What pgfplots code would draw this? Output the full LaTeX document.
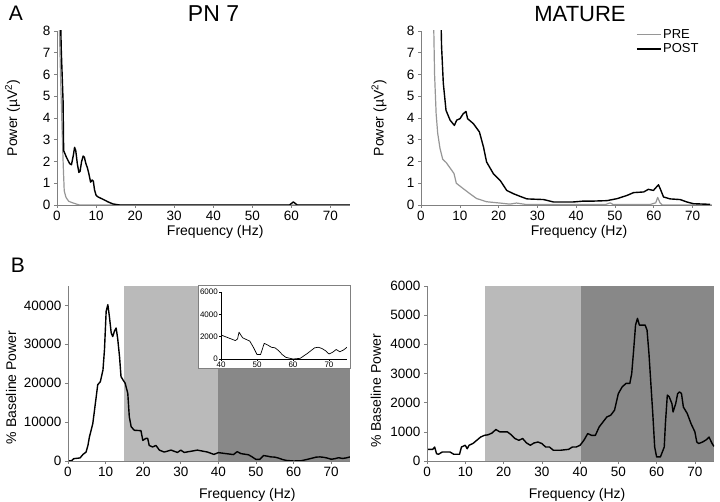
\documentclass[border=0pt]{standalone}
\usepackage{fontspec}
\setmainfont{Liberation Sans}
\usepackage{pgfplots}
\pgfplotsset{compat=1.18}

\definecolor{preg}{RGB}{150,150,150}
\definecolor{axg}{RGB}{128,128,128}
\definecolor{shadeL}{RGB}{186,186,186}
\definecolor{shadeD}{RGB}{136,136,136}

\pgfplotsset{
  panel/.style={
    scale only axis,
    xmin=0, xmax=75,
    axis x line*=bottom, axis y line*=left,
    axis line style={axg, line width=0.8pt},
    tick style={axg, line width=0.6pt},
    tick align=outside,
    major tick length=3pt,
    xtick={0,10,...,70},
    ticklabel style={font=\fontsize{13.5}{15}\selectfont},
    /pgf/number format/assume math mode=true,
    /pgf/number format/1000 sep={},
    scaled ticks=false,
    xlabel={Frequency (Hz)},
  },
  ylab/.style 2 args={every axis y label/.style={at={(axis description cs:#1,#2)}, rotate=90, anchor=center, font=\fontsize{14}{16}\selectfont}},
  xlab/.style 2 args={every axis x label/.style={at={(axis description cs:#1,#2)}, anchor=center, font=\fontsize{14}{16}\selectfont}},
  post/.style={black, line width=1.4pt, line join=round},
  pre/.style={preg, line width=1.2pt, line join=round},
}

\begin{document}
\begin{tikzpicture}[x=1pt,y=1pt]
\useasboundingbox (0,0) rectangle (720,501);

% ---------- A left: PN 7
\begin{axis}[panel,
  at={(57pt,296pt)}, anchor=south west,
  width=293pt, height=174pt,
  ymin=0, ymax=8, ytick={0,1,...,8},
  ylabel={Power (µV\textsuperscript{2})},
  ylab={-0.152}{0.5}, xlab={0.54}{-0.155},
]
\addplot[pre] coordinates {
(0.5,9) (0.9,6) (1.3,3.5) (1.6,1.8) (1.85,0.65) (2.3,0.35) (3.0,0.17) (4.0,0.1) (5.0,0.04) (5.8,0) (75,0)};
\addplot[post] coordinates {
(0.85,9) (1.1,7.1) (1.55,4.8) (1.7,2.5) (2.4,2.2) (3.25,1.9) (3.7,1.85) (4.2,2.3) (4.5,2.65) (4.8,2.5)
(5.2,1.9) (5.6,1.5) (5.9,1.55) (6.3,2.0) (6.7,2.25) (7.0,2.2) (7.4,1.9) (7.8,1.7) (8.2,1.4) (8.6,1.05)
(9.0,1.15) (9.3,1.1) (9.6,0.7) (10.0,0.45) (10.5,0.37) (11.8,0.26) (13.1,0.14) (14.3,0.05) (16,0)
(59.5,0) (60.5,0.14) (61.5,0) (75,0)};
\end{axis}

% ---------- A right: MATURE
\begin{axis}[panel,
  at={(421pt,296pt)}, anchor=south west,
  width=291pt, height=174pt,
  ymin=0, ymax=8, ytick={0,1,...,8},
  ylabel={Power (µV\textsuperscript{2})},
  ylab={-0.144}{0.5}, xlab={0.543}{-0.155},
  legend style={draw=none, fill=none, at={(rel axis cs:0.739,1.02)}, anchor=north west,
    font=\fontsize{13}{15}\selectfont, row sep=1pt, inner sep=0pt,
    nodes={inner sep=1.5pt}},
  legend cell align=left,
  legend image code/.code={\draw[#1] (0pt,0pt) -- (24pt,0pt);},
]
\addplot[pre] coordinates {
(3.2,9) (3.5,6) (3.9,4.2) (4.3,3.3) (4.9,2.6) (5.6,2.1) (6.5,1.95) (7.5,1.7) (8.5,1.45) (9.1,1.0)
(10.9,0.75) (12.6,0.52) (14.3,0.3) (16.9,0.15) (20.3,0.09) (22.9,0.04) (24.6,0.09) (27.2,0.02)
(47.5,0.02) (48.8,0.1) (49.5,0.02) (59,0.02) (60.5,0.1) (61.0,0.35) (61.6,0.1) (62.2,0) (75,0)};
\addlegendentry{PRE}
\addplot[post] coordinates {
(5.1,9) (5.3,7.3) (5.75,5.6) (6.45,4.35) (7.5,3.9) (8.6,3.66) (9.2,3.9) (10.05,3.97) (10.9,4.2)
(11.6,4.3) (12.0,3.97) (13.5,3.74) (15.05,3.36) (16.1,2.67) (16.9,1.98) (18.65,1.44) (20.4,1.13)
(22.1,0.67) (23.8,0.52) (25.5,0.4) (27.3,0.28) (31.6,0.25) (34.1,0.14) (39.3,0.14) (41.9,0.18)
(44.5,0.18) (47.9,0.2) (50.5,0.29) (53.1,0.44) (54.8,0.57) (57.4,0.6) (58.6,0.72) (59.9,0.67)
(61.2,0.93) (61.65,0.75) (62.5,0.37) (64.2,0.28) (66.8,0.25) (68.5,0.14) (70.2,0.06) (74.5,0.03)};
\addlegendentry{POST}
\end{axis}

% ---------- B left
\begin{axis}[panel, axis on top,
  at={(68pt,40pt)}, anchor=south west,
  width=282pt, height=175pt,
  ymin=0, ymax=45000, ytick={0,10000,...,40000},
  ylabel={\% Baseline Power},
  ylab={-0.202}{0.42}, xlab={0.636}{-0.194},
]
\addplot[fill=shadeL, draw=none] coordinates {(15,45000) (40,45000)} \closedcycle;
\addplot[fill=shadeD, draw=none] coordinates {(40,45000) (75,45000)} \closedcycle;
\addplot[post] coordinates {
(0,0) (1,100) (1.5,600) (2.5,700) (3.2,800) (4.0,1700) (4.8,2300) (5.3,4000) (5.7,6200) (6.6,9650)
(7.5,16500) (7.9,19600) (8.6,20400) (9.3,23400) (9.7,28600) (10.15,38500) (10.6,40200) (11.0,37200)
(11.5,32900) (11.9,32000) (12.35,33400) (12.8,34200) (13.2,31600) (13.7,26900) (14.1,21700)
(14.6,20900) (15.2,20000) (15.9,17400) (16.3,11400) (16.8,8800) (17.65,7900) (19.4,7800) (19.9,5300)
(20.7,5800) (21.2,5800) (21.6,4000) (22.5,3600) (23.4,4000) (24.3,2800) (25.6,2300) (27.4,2800)
(29.1,2200) (30,2800) (30.9,2200) (32.7,2500) (34.4,2800) (37.1,2300) (38.8,1700)
(40,2150) (42,1900) (44,1650) (45,2400) (46,1900) (48,1600) (49,1050) (50,400) (51,400) (52,1400)
(53,1250) (54,1050) (55,1000) (56,750) (57,400) (58,150) (60,0) (62,60) (64,500) (66,1000) (67,1050)
(68,950) (69,750) (70,450) (71,600) (72,850) (73,650) (74,800) (75,1050)};
\end{axis}

% inset frame
\fill[white] (198,133) rectangle (350,216);
\draw[axg, line width=0.8pt] (198,133) rectangle (350,216);

% ---------- inset
\begin{axis}[
  scale only axis,
  at={(221pt,142pt)}, anchor=south west,
  width=126pt, height=67pt,
  xmin=40, xmax=75, ymin=0, ymax=6000,
  axis x line*=bottom, axis y line*=left,
  axis line style={black, line width=0.6pt},
  tick style={black, line width=0.5pt},
  tick align=outside, major tick length=2pt,
  xtick={40,50,60,70}, ytick={0,2000,4000,6000},
  ticklabel style={font=\fontsize{8}{9}\selectfont, inner sep=1pt},
  /pgf/number format/assume math mode=true,
  /pgf/number format/1000 sep={},
  scaled ticks=false,
]
\addplot[black, line width=0.7pt, line join=round] coordinates {
(40,2150) (42,1900) (44,1650) (44.6,1800) (45,2400) (46,1900) (48,1600) (49,1050) (50,400) (51,400)
(52,1400) (53,1250) (54,1050) (55,1000) (56,750) (57,400) (58,150) (60,0) (62,60) (64,500) (66,1000)
(67,1050) (68,950) (69,750) (70,450) (71,600) (72,850) (73,650) (74,800) (75,1050)};
\end{axis}

% ---------- B right
\begin{axis}[panel, axis on top,
  at={(427pt,40pt)}, anchor=south west,
  width=287pt, height=175pt,
  ymin=0, ymax=6000, ytick={0,1000,...,6000},
  ylabel={\% Baseline Power},
  ylab={-0.178}{0.40}, xlab={0.523}{-0.194},
]
\addplot[fill=shadeL, draw=none] coordinates {(15.2,6000) (40.2,6000)} \closedcycle;
\addplot[fill=shadeD, draw=none] coordinates {(40.2,6000) (75,6000)} \closedcycle;
\addplot[post] coordinates {
(0,400) (1.5,400) (2,480) (2.5,250) (3,230) (4,310) (6,310) (7,230) (8.5,230) (9,480) (10,540)
(10.5,420) (11,540) (12,600) (13,710) (14,820) (15,880) (16,900) (17,960) (18,1080) (19,1000)
(21,1000) (22,900) (23,770) (24,710) (25,770) (26,620) (27,540) (28,620) (29,650) (30,600) (31,480)
(32,480) (33,370) (35,370) (37,400) (38,480) (39,480) (40,540) (41,710) (42,940) (43,880) (44,880)
(45,1170) (46,1340) (47,1510) (48,1570) (49,1740) (50,2310) (51,2540) (52,2660) (53,2660) (53.5,3000)
(54,3800) (54.5,4660) (55,4890) (55.5,4660) (56,4660) (57,4660) (57.5,4490) (58,3690) (58.5,2660)
(59,1630) (59.5,480) (60,140) (61,140) (62,480) (62.3,1280) (62.8,2260) (63.3,2200) (64,1970)
(64.3,1680) (65,1970) (65.5,2310) (66,2370) (66.5,2310) (67,1850) (68,1630) (69,1280) (70,1000)
(70.5,650) (71,600) (72,650) (73,730) (73.7,820) (74.5,600) (75,500)};
\end{axis}

% titles and panel letters
\node[anchor=base, font=\fontsize{23}{26}\selectfont] at (213.5,479) {PN 7};
\node[anchor=base, font=\fontsize{22}{26}\selectfont] at (580,479) {MATURE};
\node[anchor=base, font=\fontsize{21}{24}\selectfont] at (16,480) {A};
\node[anchor=base, font=\fontsize{21}{24}\selectfont] at (18,228) {B};
\end{tikzpicture}
\end{document}
